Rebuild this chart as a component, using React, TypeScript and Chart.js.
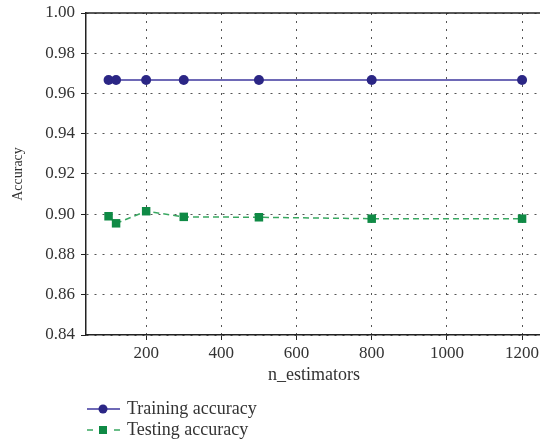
import React, { useEffect, useRef } from "react";
import { Chart, registerables } from "chart.js";

Chart.register(...registerables);

const nEstimators = [100, 120, 200, 300, 500, 800, 1200];
const trainingAccuracy = [0.9667, 0.9667, 0.9667, 0.9667, 0.9667, 0.9667, 0.9667];
const testingAccuracy = [0.899, 0.8955, 0.9015, 0.8987, 0.8985, 0.8978, 0.8978];
const xTicks = [200, 400, 600, 800, 1000, 1200];
const yTicks = [0.84, 0.86, 0.88, 0.9, 0.92, 0.94, 0.96, 0.98, 1.0];
const seriesNames = ["Training accuracy", "Testing accuracy"];

const FONT = "'Liberation Serif', 'Times New Roman', serif";
const TEXT = "#333333";
const TRAIN_LINE = "#6e69b6";
const TRAIN_MARK = "#2b2685";
const TEST_LINE = "#3aa862";
const TEST_MARK = "#0f8a45";

const framePlugin = {
  id: "frameAndLegend",
  afterDraw(chart: any) {
    const { ctx, chartArea } = chart;
    ctx.save();
    ctx.strokeStyle = "#222";
    ctx.lineWidth = 1.5;
    ctx.setLineDash([]);
    ctx.beginPath();
    ctx.moveTo(chartArea.left, chartArea.top);
    ctx.lineTo(chartArea.right, chartArea.top);
    ctx.stroke();

    const lx0 = 87;
    const lx1 = 120;
    const mx = 103;
    const ys = [409, 430];
    ctx.font = `18px ${FONT}`;
    ctx.textBaseline = "middle";
    ctx.textAlign = "left";

    ctx.strokeStyle = TRAIN_LINE;
    ctx.lineWidth = 2;
    ctx.beginPath();
    ctx.moveTo(lx0, ys[0]);
    ctx.lineTo(lx1, ys[0]);
    ctx.stroke();
    ctx.fillStyle = TRAIN_MARK;
    ctx.beginPath();
    ctx.arc(mx, ys[0], 4.5, 0, Math.PI * 2);
    ctx.fill();
    ctx.fillStyle = TEXT;
    ctx.fillText(seriesNames[0], 127, ys[0]);

    ctx.strokeStyle = TEST_LINE;
    ctx.lineWidth = 1.5;
    ctx.beginPath();
    ctx.moveTo(lx0, ys[1]);
    ctx.lineTo(lx0 + 6, ys[1]);
    ctx.moveTo(lx1 - 6, ys[1]);
    ctx.lineTo(lx1, ys[1]);
    ctx.stroke();
    ctx.fillStyle = TEST_MARK;
    ctx.fillRect(mx - 4, ys[1] - 4, 8, 8);
    ctx.fillStyle = TEXT;
    ctx.fillText(seriesNames[1], 127, ys[1]);
    ctx.restore();
  },
};

const gridOpts: any = {
  color: "#555",
  lineWidth: 1,
  drawTicks: true,
  tickLength: 5,
  tickColor: "#222",
  tickBorderDash: [],
};

const borderOpts: any = { display: true, color: "#222", width: 1.5, dash: [2, 6] };

export default function App() {
  const ref = useRef<HTMLCanvasElement>(null);

  useEffect(() => {
    if (!ref.current) return;
    const chart = new Chart(ref.current, {
      type: "line",
      data: {
        datasets: [
          {
            label: seriesNames[0],
            data: nEstimators.map((x, i) => ({ x, y: trainingAccuracy[i] })),
            borderColor: TRAIN_LINE,
            backgroundColor: TRAIN_MARK,
            borderWidth: 2,
            pointStyle: "circle",
            pointRadius: 5,
            pointBorderWidth: 0,
            pointBackgroundColor: TRAIN_MARK,
            tension: 0,
          },
          {
            label: seriesNames[1],
            data: nEstimators.map((x, i) => ({ x, y: testingAccuracy[i] })),
            borderColor: TEST_LINE,
            backgroundColor: TEST_MARK,
            borderWidth: 1.5,
            borderDash: [6, 4],
            pointStyle: "rect",
            pointRadius: 6,
            pointBorderWidth: 0,
            pointBackgroundColor: TEST_MARK,
            tension: 0,
          },
        ],
      },
      options: {
        responsive: false,
        animation: false,
        layout: { padding: { left: 0, top: 13, right: 0, bottom: 48 } },
        plugins: {
          legend: { display: false },
          tooltip: { enabled: false },
        },
        scales: {
          x: {
            type: "linear",
            min: 40,
            max: 1253,
            afterBuildTicks: (scale: any) => {
              scale.ticks = xTicks.map((v) => ({ value: v }));
            },
            afterFit: (scale: any) => {
              scale.height = 60;
            },
            grid: gridOpts,
            border: borderOpts,
            ticks: {
              color: TEXT,
              padding: 3,
              font: { family: FONT, size: 17 },
              maxRotation: 0,
              callback: (v: any) => String(v),
            },
            title: {
              display: true,
              text: "n_estimators",
              color: TEXT,
              font: { family: FONT, size: 18 },
              padding: { top: 0, bottom: 9 },
            },
          },
          y: {
            type: "linear",
            min: 0.84,
            max: 1.0,
            afterBuildTicks: (scale: any) => {
              scale.ticks = yTicks.map((v) => ({ value: v }));
            },
            afterFit: (scale: any) => {
              scale.width = 86;
              scale.paddingTop = 0;
              scale.paddingBottom = 0;
            },
            grid: gridOpts,
            border: borderOpts,
            ticks: {
              color: TEXT,
              padding: 6,
              font: { family: FONT, size: 17 },
              callback: (v: any) => Number(v).toFixed(2),
            },
            title: {
              display: true,
              text: "Accuracy",
              color: TEXT,
              font: { family: FONT, size: 14 },
              padding: { top: 10, bottom: 0 },
            },
          },
        },
      },
      plugins: [framePlugin],
    });
    return () => chart.destroy();
  }, []);

  return (
    <div
      style={{
        position: "fixed",
        left: 0,
        top: 0,
        width: 540,
        height: 443,
        overflow: "hidden",
        background: "#fff",
      }}
    >
      <canvas ref={ref} width={548} height={443} style={{ display: "block" }} />
    </div>
  );
}
